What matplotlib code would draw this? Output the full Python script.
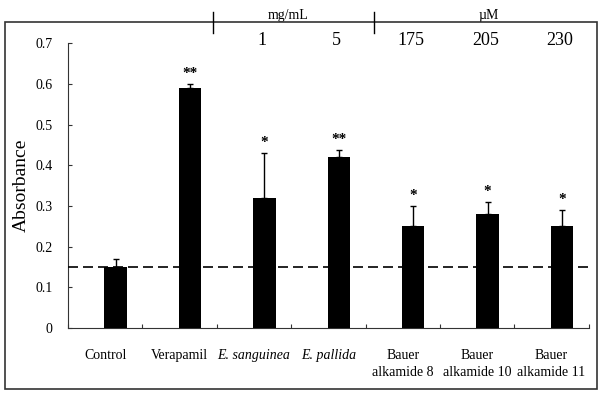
import numpy as np
import matplotlib.pyplot as plt
import matplotlib.transforms as mtransforms
from matplotlib.patches import Rectangle
from matplotlib.lines import Line2D

plt.rcParams['font.family'] = ['Liberation Serif', 'DejaVu Serif']

# data
groups = ["Control", "Verapamil", "E. sanguinea", "E. pallida",
          "Bauer\nalkamide 8", "Bauer\nalkamide 10", "Bauer\nalkamide 11"]
absorb = [0.15, 0.59, 0.32, 0.42, 0.25, 0.28, 0.25]
err = [0.02, 0.01, 0.11, 0.018, 0.05, 0.03, 0.04]
stars = ["", "**", "*", "**", "*", "*", "*"]
doses = ["", "", "1", "5", "175", "205", "230"]
control_level = 0.15

fig = plt.figure(figsize=(6.02, 3.96), dpi=100)
ax = fig.add_axes([0.113, 0.172, 0.865, 0.719])

x = np.arange(len(groups))
ax.bar(x + 0.14, absorb, width=0.3, color='black', zorder=3)
ax.errorbar(x + 0.14, absorb, yerr=[np.zeros(len(err)), err], fmt='none',
            ecolor='black', elinewidth=1, capsize=2.5, capthick=1, zorder=4)
ax.axhline(control_level, color='black', lw=1.2, ls=(0, (6, 3)), zorder=5)

for i in range(len(groups)):
    if stars[i]:
        ax.text(x[i] + 0.14, absorb[i] + err[i] + 0.01, stars[i],
                ha='center', va='bottom', fontsize=11, fontweight='bold')

ax.set_xlim(-0.5, len(groups) - 0.5)
ax.set_ylim(0, 0.7)
ax.set_yticks(np.arange(0, 0.71, 0.1))
ax.set_yticklabels(["0"] + ["%.1f" % v for v in np.arange(0.1, 0.71, 0.1)])
ax.set_xticks(np.arange(-0.5, len(groups), 1.0))
ax.set_xticklabels([])
ax.set_xticks(x, minor=True)
ax.set_xticklabels(groups, minor=True, linespacing=1.45)
for lab in ax.get_xticklabels(minor=True)[2:4]:
    lab.set_style('italic')
ax.tick_params(axis='x', which='major', direction='in', length=3, color='#333333')
ax.tick_params(axis='x', which='minor', length=0, pad=15, labelsize=10)
ax.tick_params(axis='y', direction='in', length=3, pad=11, labelsize=10, color='#333333')
ax.set_ylabel("Absorbance", fontsize=14, labelpad=4)

for s in ['top', 'right']:
    ax.spines[s].set_visible(False)
for s in ['left', 'bottom']:
    ax.spines[s].set_color('#333333')

# dose row and unit headings above the plot
trans = mtransforms.blended_transform_factory(ax.transData, fig.transFigure)
for i in range(len(groups)):
    if doses[i]:
        ax.text(x[i] + 0.11, 0.898, doses[i], transform=trans,
                ha='center', va='center', fontsize=13)
for xs in [1.45, 3.61]:
    fig.add_artist(Line2D([xs, xs], [0.917, 0.97], transform=trans,
                          color='black', lw=1))
ax.text(2.46, 0.962, "mg/mL", transform=trans, ha='center', va='center', fontsize=10)
ax.text(5.15, 0.962, "\u00b5M", transform=trans, ha='center', va='center', fontsize=10)

# frame around the figure
fig.add_artist(Rectangle((0.008, 0.018), 0.983, 0.927, transform=fig.transFigure,
                         fill=False, edgecolor='#333333', lw=1.2))

fig.savefig("out.png", dpi=100)
